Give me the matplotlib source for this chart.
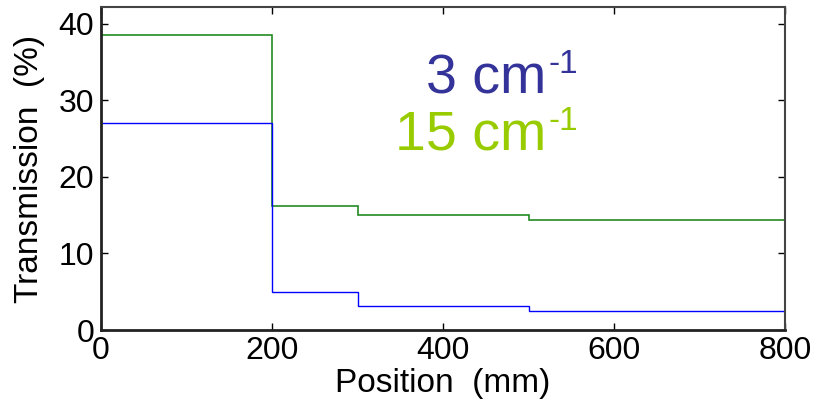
import numpy as np
import matplotlib
matplotlib.use('Agg')
import matplotlib.pyplot as plt

plt.rcParams['font.family'] = 'Liberation Sans'

# step edges (mm) and transmission (%) in each section
edges = [0, 200, 300, 500, 800]
trans_3 = [27.0, 4.95, 3.1, 2.45]
trans_15 = [38.5, 16.2, 15.05, 14.4]

W, H = 817, 412
fig = plt.figure(figsize=(W / 100, H / 100), dpi=100)
ax = fig.add_axes([101 / W, 82 / H, 684 / W, 323 / H])

ax.stairs(trans_15, edges, color='#228b22', lw=1.2, baseline=None)
ax.stairs(trans_3, edges, color='#0000ff', lw=1.0, baseline=None)

ax.set_xlim(0, 800)
ax.set_ylim(0, 42.2)
ax.set_xticks([0, 200, 400, 600, 800])
ax.set_yticks([0, 10, 20, 30, 40])
ax.tick_params(direction='in', top=True, right=True, labelsize=23, length=5,
               width=1)
ax.tick_params(axis='x', pad=4)
ax.tick_params(axis='y', pad=5)
for side, s in ax.spines.items():
    if side in ('left', 'bottom'):
        s.set_linewidth(2)
        s.set_color('#222222')
    else:
        s.set_linewidth(1.5)
        s.set_color('#444444')

ax.set_xlabel('Position  (mm)', fontsize=24, labelpad=2)
ax.set_ylabel('Transmission  (%)', fontsize=24, labelpad=10)


def label(text, color, baseline_px):
    # main text right-aligned, superscript "-1" just after it
    fig.text(546 / W, 1 - baseline_px / H, text, color=color, fontsize=40,
             ha='right', va='baseline')
    fig.text(548 / W, 1 - (baseline_px - 20) / H, '-1', color=color,
             fontsize=24, ha='left', va='baseline')


label('3 cm', '#333399', 93)
label('15 cm', '#99cc00', 150)

fig.savefig('out.png', dpi=100)
